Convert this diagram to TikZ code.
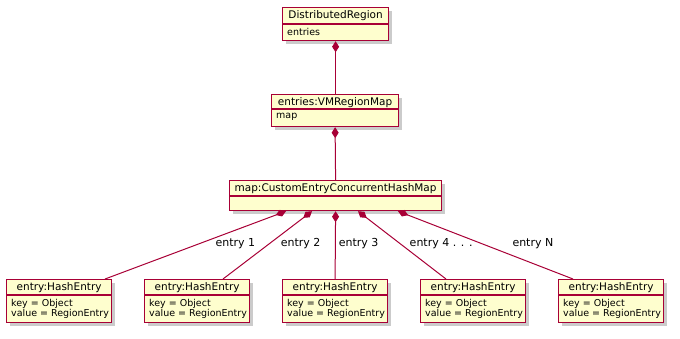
\documentclass[tikz,border=0pt]{standalone}
\usepackage{fontspec}
\setmainfont{DejaVu Sans}
\usetikzlibrary{arrows.meta,positioning,shadows}

\definecolor{umlred}{HTML}{A80036}
\definecolor{umlfill}{HTML}{FEFECE}

\begin{document}
\begin{tikzpicture}[
  x=1pt,y=-1pt,
  objbox/.style={draw=umlred,fill=umlfill,line width=1.2pt,anchor=north west,inner sep=0pt,
    drop shadow={shadow xshift=3pt,shadow yshift=-3pt,fill=black!45,opacity=0.45}},
  title/.style={anchor=north,inner sep=0pt,font=\fontsize{10.5}{12}\selectfont,yshift=-3pt},
  attr/.style={anchor=north west,inner sep=0pt,align=left,font=\fontsize{9.5}{10.5}\selectfont,xshift=5pt,yshift=-4pt},
  comp/.style={umlred,line width=1pt,{Diamond[length=11pt,width=7pt]}-},
  lbl/.style={pos=0.48,anchor=west,inner sep=0pt,text=black,font=\fontsize{11}{13}\selectfont}
]
  \useasboundingbox (0,0) rectangle (680,338);

  % top objects
  \node[objbox,minimum width=106pt,minimum height=33pt] (dreg) at (282,7) {};
  \node[title] at (dreg.north) {DistributedRegion};
  \draw[umlred,line width=1.2pt] ([yshift=-17pt]dreg.north west) -- ([yshift=-17pt]dreg.north east);
  \node[attr] at ([yshift=-17pt]dreg.north west) {entries};

  \node[objbox,minimum width=127pt,minimum height=32pt] (vmap) at (271,94) {};
  \node[title] at (vmap.north) {entries:VMRegionMap};
  \draw[umlred,line width=1.2pt] ([yshift=-15pt]vmap.north west) -- ([yshift=-15pt]vmap.north east);
  \node[attr] at ([yshift=-15pt]vmap.north west) {map};

  \node[objbox,minimum width=212pt,minimum height=30pt] (chm) at (229,180) {};
  \node[title] at (chm.north) {map:CustomEntryConcurrentHashMap};
  \draw[umlred,line width=1.2pt] ([yshift=-16pt]chm.north west) -- ([yshift=-16pt]chm.north east);

  % hash entries
  \foreach \i in {1,...,5} {
    \node[objbox,minimum width=105pt,minimum height=43pt] (e\i) at ({6+138*(\i-1)},279) {};
    \node[title] at (e\i.north) {entry:HashEntry};
    \draw[umlred,line width=1.2pt] ([yshift=-16pt]e\i.north west) -- ([yshift=-16pt]e\i.north east);
    \node[attr] at ([yshift=-16pt]e\i.north west) {key = Object\\value = RegionEntry};
  }

  \draw[comp] (dreg.south) -- (dreg.south |- vmap.north);
  \draw[comp] (vmap.south) -- (chm.north);

  \draw[comp] ([xshift=57pt]chm.south west) -- node[lbl,xshift=16pt]{entry 1} ([xshift=99pt]e1.north west);
  \draw[comp] ([xshift=83pt]chm.south west) -- node[lbl,xshift=11pt]{entry 2} ([xshift=79pt]e2.north west);
  \draw[comp] (chm.south) -- node[lbl,xshift=3pt]{entry 3} (e3.north);
  \draw[comp] ([xshift=129pt]chm.south west) -- node[lbl,xshift=9pt]{entry 4 . . .} ([xshift=26pt]e4.north west);
  \draw[comp] ([xshift=169pt]chm.south west) -- node[lbl,xshift=30pt]{entry N} ([xshift=15pt]e5.north west);
\end{tikzpicture}
\end{document}
